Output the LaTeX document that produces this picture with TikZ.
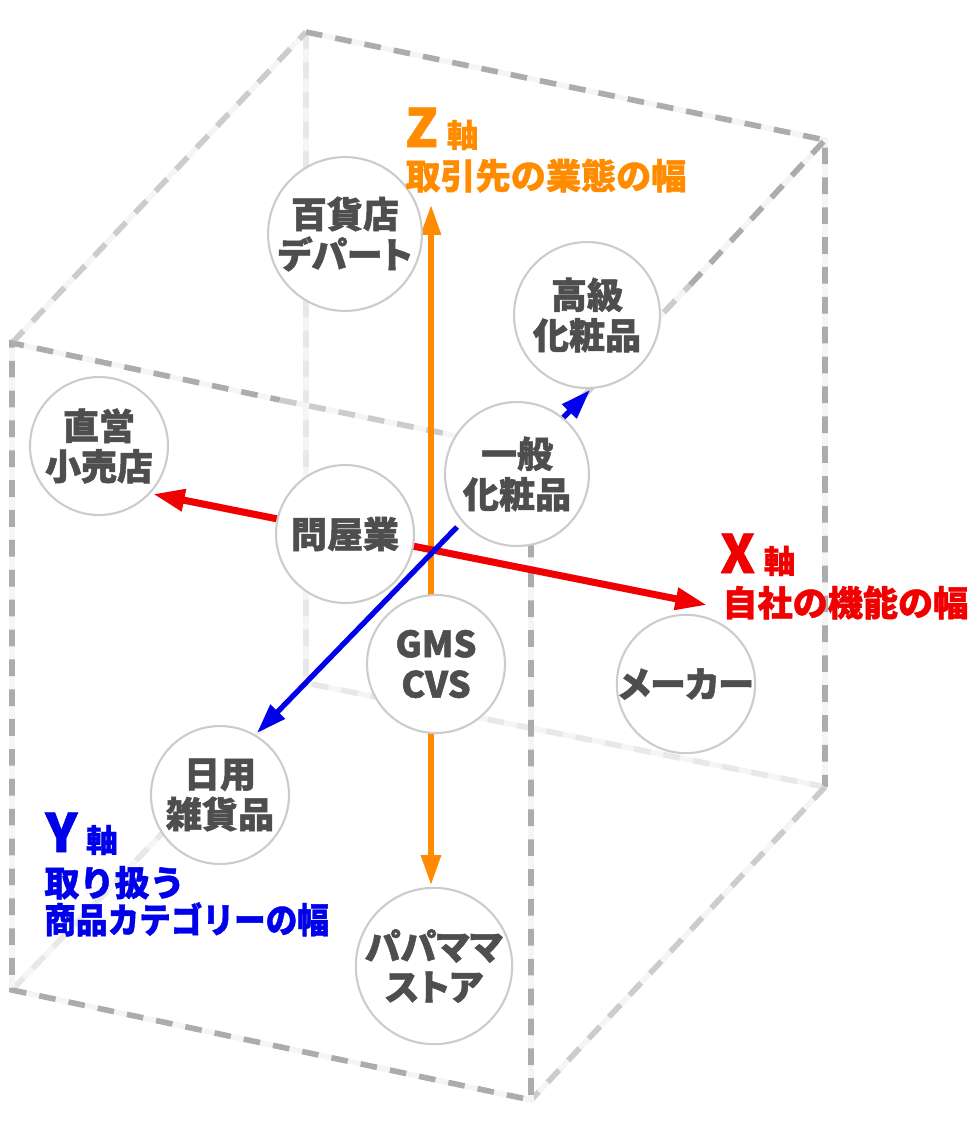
\documentclass[tikz,border=0pt]{standalone}
\usepackage{fontspec}
\usepackage{graphicx}
\newfontfamily\jpfont{Noto Sans CJK JP}[BoldFeatures={FakeBold=1.2}]
\newfontfamily\jpkana{Noto Sans CJK JP}[RawFeature=+palt, BoldFeatures={FakeBold=1.4}]
\usetikzlibrary{arrows.meta}
\definecolor{zorange}{RGB}{255,140,0}
\definecolor{xred}{RGB}{240,0,0}
\definecolor{yblue}{RGB}{0,0,235}
\definecolor{spottext}{RGB}{78,78,78}
\tikzset{
	edge/.style={draw=gray!65, line width=3.2pt, dash pattern=on 9.5pt off 7.5pt,
		preaction={draw=gray!8, solid, line width=3.2pt}},
	softedge/.style={edge, draw=gray!40},
	hidedge/.style={edge, draw=gray!18},
	spot/.style={circle, draw=gray!40, line width=1.2pt, fill=white, minimum size=2.76cm,
		inner sep=0pt, align=center, text=spottext, font=\jpkana\bfseries\fontsize{20.5}{23}\selectfont},
	axis/.style={line width=3pt, >={Triangle[length=17pt, width=11pt]}},
	axislabel/.style={anchor=base west, inner sep=0pt, font=\jpfont\bfseries\fontsize{20}{24}\selectfont},
}
\newcommand{\bigch}[1]{{\fontsize{30}{30}\selectfont #1}\hspace{5pt}{\fontsize{18}{18}\selectfont 軸}}
\begin{document}
\begin{tikzpicture}[x=0.02cm, y=-0.02cm]
	\useasboundingbox (0,0) rectangle (975,1147);
	% back edges
	\draw[hidedge] (306,32) -- (306,683) -- (825,787);
	\draw[hidedge] (12,990) -- (306,683);
	% box
	\draw[softedge] (12,343) -- (306,32);
	\draw[edge]     (306,32) -- (825,140) -- (825,787);
	\draw[softedge] (825,787) -- (531,1100);
	\draw[edge]     (531,451) -- (531,1100) -- (12,990) -- (12,343) -- (280,400);
	\draw[softedge] (280,400) -- (531,451) -- (690,285);
	\draw[edge]     (690,285) -- (825,140);
	% axes
	\coordinate (ztop) at (431,205);
	\coordinate (zbot) at (431,885);
	\coordinate (xleft) at (153,494);
	\coordinate (xright) at (707,605);
	\coordinate (ylow) at (457,527);
	\coordinate (ytip) at (257,733);
	\coordinate (yup) at (563,418);
	\coordinate (yend) at (590,390);
	\draw[axis, zorange, <->] (ztop) -- (zbot);
	\draw[axis, xred, line width=4pt, >={Triangle[length=18pt, width=12pt]}, <->] (xleft) -- (xright);
	\draw[axis, yblue, ->] (ylow) -- (ytip);
	\draw[axis, yblue, ->] (yup) -- (yend);
	% circles
	\node[spot] (dept) at (345,234) {百貨店\\デパート};
	\node[spot, minimum size=2.92cm] (luxury) at (587,315) {高級\\化粧品};
	\node[spot] (direct) at (99,446) {直営\\小売店};
	\node[spot, minimum size=2.88cm] (cosme) at (517,474) {一般\\化粧品};
	\node[spot] (whole) at (345,534) {問屋業};
	\node[spot] (gms) at (436,664) {GMS\\CVS};
	\node[spot] (maker) at (686,684) {メーカー};
	\node[spot] (daily) at (220,795) {日用\\雑貨品};
	\node[spot, minimum size=2.92cm] (papa) at (434,966) {パパママ\\ストア};
	% axis labels
	\node[axislabel, zorange] (zhead) at (405,147) {\bigch{Z}};
	\node[axislabel, zorange] (zname) at (405,189) {取引先の業態の幅};
	\node[axislabel, xred] (xhead) at (720,573) {\bigch{X}};
	\node[axislabel, xred] (xname) at (722,616) {自社の機能の幅};
	\node[axislabel, yblue] (yhead) at (45,852) {\bigch{Y}};
	\node[axislabel, yblue] (yname) at (44,896) {取り扱う};
	\node[axislabel, yblue] (yname2) at (44,933) {\scalebox{0.9}[1]{商品カテゴリーの幅}};
\end{tikzpicture}
\end{document}
